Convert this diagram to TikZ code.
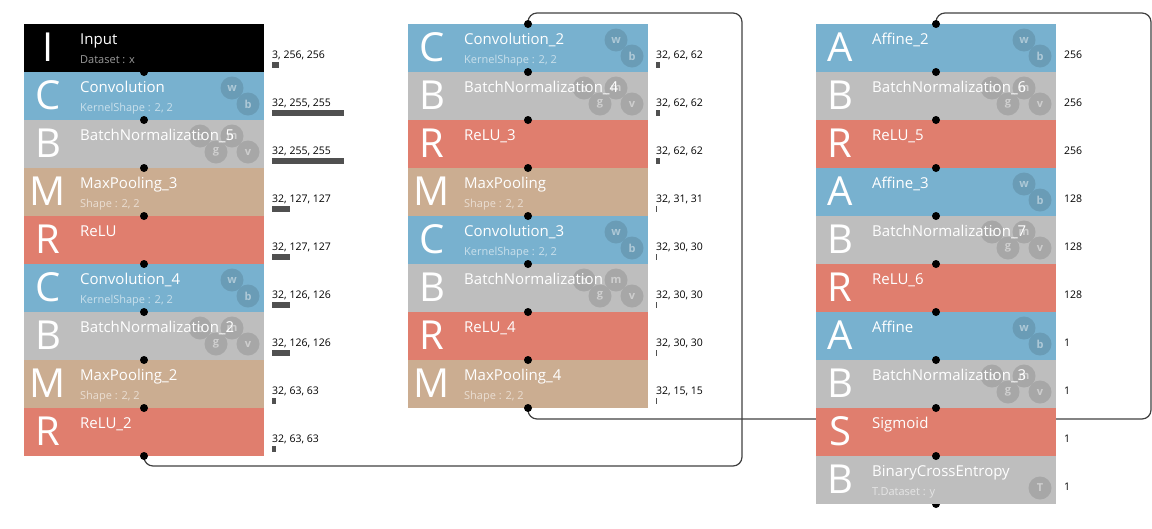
\documentclass[tikz,border=0pt]{standalone}
\usepackage{fontspec}
\setmainfont{Open Sans}
\definecolor{convblue}{RGB}{120,177,207}
\definecolor{normgray}{RGB}{190,190,190}
\definecolor{pooltan}{RGB}{203,173,145}
\definecolor{actred}{RGB}{224,126,110}
\definecolor{barfill}{RGB}{80,80,80}
\definecolor{wiregray}{RGB}{64,64,64}
\pgfdeclarelayer{wires}
\pgfdeclarelayer{front}
\pgfsetlayers{wires,main,front}
\begin{document}
\begin{tikzpicture}[x=1pt, y=-1pt,
    block/.style={rectangle, anchor=north west, minimum width=240pt,
        minimum height=48pt, inner sep=0pt, outer sep=0pt},
    inp/.style={block, fill=black},
    conv/.style={block, fill=convblue},
    bn/.style={block, fill=normgray},
    pool/.style={block, fill=pooltan},
    act/.style={block, fill=actred},
    letter/.style={anchor=base, inner sep=0pt, text=white,
        font=\fontsize{40}{40}\selectfont},
    title/.style={anchor=base west, inner sep=0pt, text=white,
        font=\fontsize{15}{17}\selectfont},
    subtitle/.style={anchor=base west, inner sep=0pt, text=white,
        text opacity=0.6, font=\fontsize{11}{13}\selectfont},
    dims/.style={anchor=base west, inner sep=0pt,
        font=\fontsize{10.5}{12}\selectfont},
    bar/.style={fill=barfill},
    param/.style={circle, minimum size=23pt, inner sep=0pt, text=white,
        text opacity=0.45, font=\fontsize{11}{11}\selectfont\bfseries},
    wparam/.style={param, fill=convblue!88!black},
    nparam/.style={param, fill=normgray!88!black},
    port/.style={circle, fill=black, minimum size=8pt, inner sep=0pt},
    wire/.style={draw=wiregray, line width=1.2pt, rounded corners=9pt}]
    \useasboundingbox (0,0) rectangle (1152,528);
    % Capas, columnas 1 y 2
    \foreach \col/\x/\i/\kind/\ltr/\ttl/\sub/\c/\h/\w in {
        1/24/0/inp/I/Input/{Dataset : x}/3/256/256,
        1/24/1/conv/C/Convolution/{KernelShape : 2, 2}/32/255/255,
        1/24/2/bn/B/BatchNormalization\_5/{}/32/255/255,
        1/24/3/pool/M/MaxPooling\_3/{Shape : 2, 2}/32/127/127,
        1/24/4/act/R/ReLU/{}/32/127/127,
        1/24/5/conv/C/Convolution\_4/{KernelShape : 2, 2}/32/126/126,
        1/24/6/bn/B/BatchNormalization\_2/{}/32/126/126,
        1/24/7/pool/M/MaxPooling\_2/{Shape : 2, 2}/32/63/63,
        1/24/8/act/R/ReLU\_2/{}/32/63/63,
        2/408/0/conv/C/Convolution\_2/{KernelShape : 2, 2}/32/62/62,
        2/408/1/bn/B/BatchNormalization\_4/{}/32/62/62,
        2/408/2/act/R/ReLU\_3/{}/32/62/62,
        2/408/3/pool/M/MaxPooling/{Shape : 2, 2}/32/31/31,
        2/408/4/conv/C/Convolution\_3/{KernelShape : 2, 2}/32/30/30,
        2/408/5/bn/B/BatchNormalization/{}/32/30/30,
        2/408/6/act/R/ReLU\_4/{}/32/30/30,
        2/408/7/pool/M/MaxPooling\_4/{Shape : 2, 2}/32/15/15} {
        \pgfmathsetmacro\yt{24 + \i*48}
        \pgfmathsetmacro\bw{\c*(\h/170)*(\w/170)}
        \node[\kind] (L\col-\i) at (\x,\yt) {};
        \begin{pgfonlayer}{front}
            \node[letter] (L\col-\i-ltr) at ([shift={(24,37)}]L\col-\i.north west) {\ltr};
            \node[title] (L\col-\i-ttl) at ([shift={(56,20)}]L\col-\i.north west) {\ttl};
            \node[subtitle] (L\col-\i-sub) at ([shift={(56,39.5)}]L\col-\i.north west) {\sub};
        \end{pgfonlayer}
        \node[dims] (L\col-\i-dim) at ([shift={(8,34)}]L\col-\i.north east) {\c, \h, \w};
        \fill[bar] ([shift={(8,37.5)}]L\col-\i.north east) rectangle ++(\bw,6);
    }
    % Capas, columna 3
    \foreach \i/\kind/\ltr/\ttl/\sub/\n in {
        0/conv/A/Affine\_2/{}/256,
        1/bn/B/BatchNormalization\_6/{}/256,
        2/act/R/ReLU\_5/{}/256,
        3/conv/A/Affine\_3/{}/128,
        4/bn/B/BatchNormalization\_7/{}/128,
        5/act/R/ReLU\_6/{}/128,
        6/conv/A/Affine/{}/1,
        7/bn/B/BatchNormalization\_3/{}/1,
        8/act/S/Sigmoid/{}/1,
        9/bn/B/BinaryCrossEntropy/{T.Dataset : y}/1} {
        \pgfmathsetmacro\yt{24 + \i*48}
        \node[\kind] (L3-\i) at (816,\yt) {};
        \begin{pgfonlayer}{front}
            \node[letter] (L3-\i-ltr) at ([shift={(24,37)}]L3-\i.north west) {\ltr};
            \node[title] (L3-\i-ttl) at ([shift={(56,20)}]L3-\i.north west) {\ttl};
            \node[subtitle] (L3-\i-sub) at ([shift={(56,39.5)}]L3-\i.north west) {\sub};
        \end{pgfonlayer}
        \node[dims] (L3-\i-dim) at ([shift={(8,34)}]L3-\i.north east) {\n};
    }
    % Parametros
    \foreach \n in {L1-1,L1-5,L2-0,L2-4,L3-0,L3-3,L3-6} {
        \node[wparam] (\n-w) at ([shift={(-32,16)}]\n.north east) {w};
        \node[wparam] (\n-b) at ([shift={(-16,32)}]\n.north east) {b};
    }
    \foreach \n in {L1-2,L1-6,L2-1,L2-5,L3-1,L3-4,L3-7} {
        \node[nparam] (\n-beta) at ([shift={(-64,16)}]\n.north east) {b};
        \node[nparam] (\n-m) at ([shift={(-32,16)}]\n.north east) {m};
        \node[nparam] (\n-g) at ([shift={(-48,32)}]\n.north east) {g};
        \node[nparam] (\n-v) at ([shift={(-16,32)}]\n.north east) {v};
    }
    \node[nparam] (L3-9-t) at ([shift={(-16,32)}]L3-9.north east) {T};
    % Puertos
    \begin{pgfonlayer}{front}
        \foreach \i in {1,...,8} \node[port] (L1-\i-in) at (L1-\i.north) {};
        \foreach \i in {0,...,7} \node[port] (L2-\i-in) at (L2-\i.north) {};
        \foreach \i in {0,...,9} \node[port] (L3-\i-in) at (L3-\i.north) {};
        \node[port] (L1-8-out) at (L1-8.south) {};
        \node[port] (L2-7-out) at (L2-7.south) {};
    \end{pgfonlayer}
    % Conexiones entre columnas
    \begin{pgfonlayer}{wires}
        \node[port] (L3-9-out) at (L3-9.south) {};
        \coordinate (turnA) at (742,466);
        \coordinate (topA) at (742,13);
        \coordinate (turnB) at (1151,419);
        \coordinate (topB) at (1151,13);
        \draw[wire] (L1-8-out.center) |- (turnA) -- (topA) -| (L2-0-in.center);
        \draw[wire] (L2-7-out.center) |- (turnB) -- (topB) -| (L3-0-in.center);
    \end{pgfonlayer}
\end{tikzpicture}
\end{document}
